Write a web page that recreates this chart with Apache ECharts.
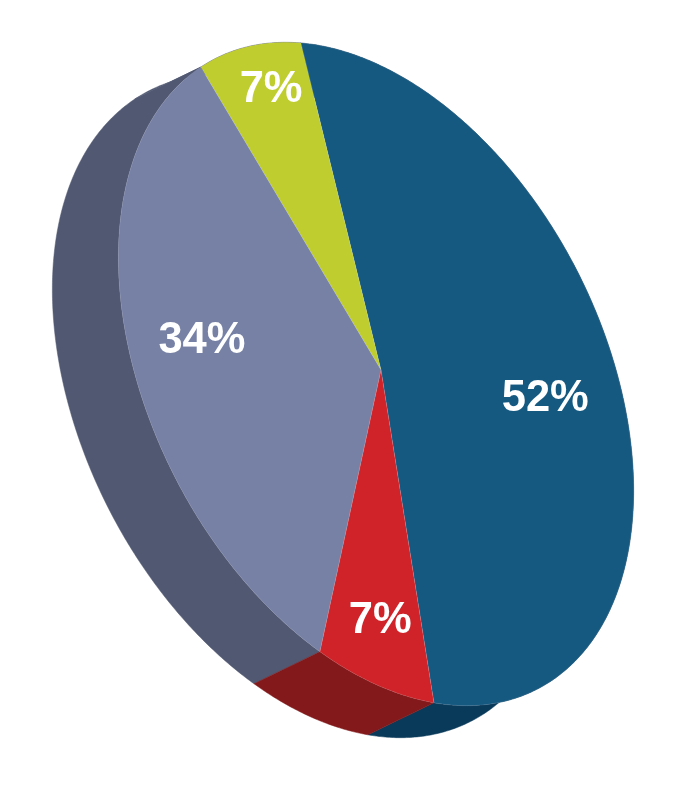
<!DOCTYPE html>
<html><head><meta charset="utf-8">
<style>html,body{margin:0;padding:0;background:#fff}#c{width:677px;height:800px}</style>
<script src="https://cdn.jsdelivr.net/npm/echarts@6/dist/echarts.min.js"></script>
</head><body><div id="c"></div>
<script>
const categories = ['Blue','Yellow','Purple','Red'];
const values = [51.1, 7.2, 34.6, 7.1];
const labels = ['52%','7%','34%','7%'];
const topColors = ['#155981','#BFCE2E','#7681A5','#CF2329'];
const sideColors = ['#0A3A5A','#505872','#505872','#83191A'];
const labelRadius = [0.68,0.87,0.69,0.78];
const labelShiftDeg = [0,2,3.4,-1];

// Tilted-disc projection
const cx=376, cy=374, a=354, b=226, tilt=27*Math.PI/180;
const apex=[381,370], depth=[-66,32], startDeg=-154.4, labelDy=2.5;
const ux=-Math.sin(tilt), uy=-Math.cos(tilt), vx=Math.cos(tilt), vy=-Math.sin(tilt);
const total=values.reduce((s,v)=>s+v,0);
function rim(deg,r){const t=deg*Math.PI/180,k=r==null?1:r,p=a*Math.cos(t)*k,q=b*Math.sin(t)*k;
  return [cx+p*ux+q*vx, cy+p*uy+q*vy];}
function range(i){let s=startDeg;for(let k=0;k<i;k++)s-=values[k]/total*360;
  return [s,s-values[i]/total*360];}
function arc(i){const [s,e]=range(i),n=Math.max(8,Math.ceil((s-e)*2)),o=[];
  for(let k=0;k<=n;k++)o.push(rim(s+(e-s)*k/n));return o;}

function renderSide(params,api){
  const i=params.dataIndex, pts=arc(i);
  const low=pts.map(p=>[p[0]+depth[0],p[1]+depth[1]]).reverse();
  return {type:'polygon',shape:{points:pts.concat(low)},
    style:{fill:sideColors[i],stroke:sideColors[i],lineWidth:0.5}};
}
function renderTop(params,api){
  const i=params.dataIndex, pts=arc(i);
  return {type:'polygon',shape:{points:[apex].concat(pts)},
     style:{fill:topColors[i],stroke:'rgba(230,232,240,0.22)',lineWidth:0.5}};
}
function renderLabel(params,api){
  const i=params.dataIndex,[s,e]=range(i),m=rim((s+e)/2+labelShiftDeg[i],labelRadius[i]);
  return {type:'text',style:{x:m[0],y:m[1]+labelDy,text:labels[i],fill:'#fff',align:'center',verticalAlign:'middle',
    font:'bold 43.5px "Liberation Sans", Arial, sans-serif'}};
}
const seriesData=values.map((v,i)=>({name:categories[i],value:[v]}));
const chart=echarts.init(document.getElementById('c'),null,{renderer:'canvas'});
chart.setOption({animation:false,
  series:[
   {type:'custom',coordinateSystem:'none',renderItem:renderSide,data:seriesData,z:1,silent:true},
   {type:'custom',coordinateSystem:'none',renderItem:renderTop,data:seriesData,z:2,silent:true},
   {type:'custom',coordinateSystem:'none',renderItem:renderLabel,data:seriesData,z:3,silent:true}
  ]});
</script></body></html>
